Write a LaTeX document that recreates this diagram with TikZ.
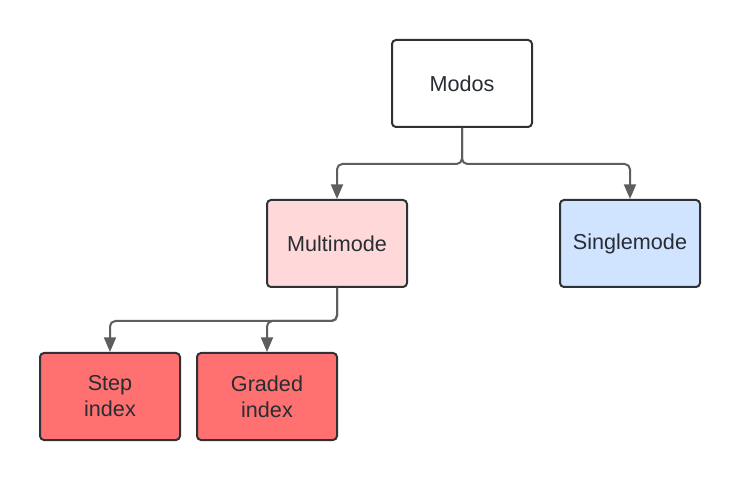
\documentclass[tikz,border=0pt]{standalone}
\usepackage{fontspec}
\setmainfont{Liberation Sans}
\usetikzlibrary{arrows.meta}
\definecolor{boxline}{HTML}{2E3136}
\definecolor{textcol}{HTML}{282C33}
\definecolor{connline}{HTML}{5E5E5E}
\definecolor{lightred}{HTML}{FFD9D9}
\definecolor{lightblue}{HTML}{D0E3FF}
\definecolor{strongred}{HTML}{FF7070}
\begin{document}
\begin{tikzpicture}[x=0.75pt,y=-0.75pt,
  box/.style={draw=boxline, line width=1.5pt, rounded corners=3pt,
    minimum width=105pt, minimum height=65.25pt, align=center, inner sep=0pt,
    text=textcol, font=\fontsize{16.2}{19.5}\selectfont},
  conn/.style={draw=connline, line width=1.5pt, rounded corners=4pt,
    -{Triangle[length=11pt,width=9pt]}}]
\useasboundingbox (0,0) rectangle (740,481);
\node[box, fill=white] (modos) at (462,83.5) {Modos};
\node[box, fill=lightred] (multi) at (337,243.5) {Multimode};
\node[box, fill=lightblue] (single) at (630,243.5) {Singlemode};
\node[box, fill=strongred] (step) at (110,396.5) {Step\\index};
\node[box, fill=strongred] (graded) at (267,396.5) {Graded\\index};
\draw[conn] (modos.south) -- ++(0,36) -| (multi.north);
\draw[conn] (modos.south) -- ++(0,36) -| (single.north);
\draw[conn] (multi.south) -- ++(0,33) -| (step.north);
\draw[conn] (multi.south) -- ++(0,33) -| (graded.north);
\end{tikzpicture}
\end{document}
